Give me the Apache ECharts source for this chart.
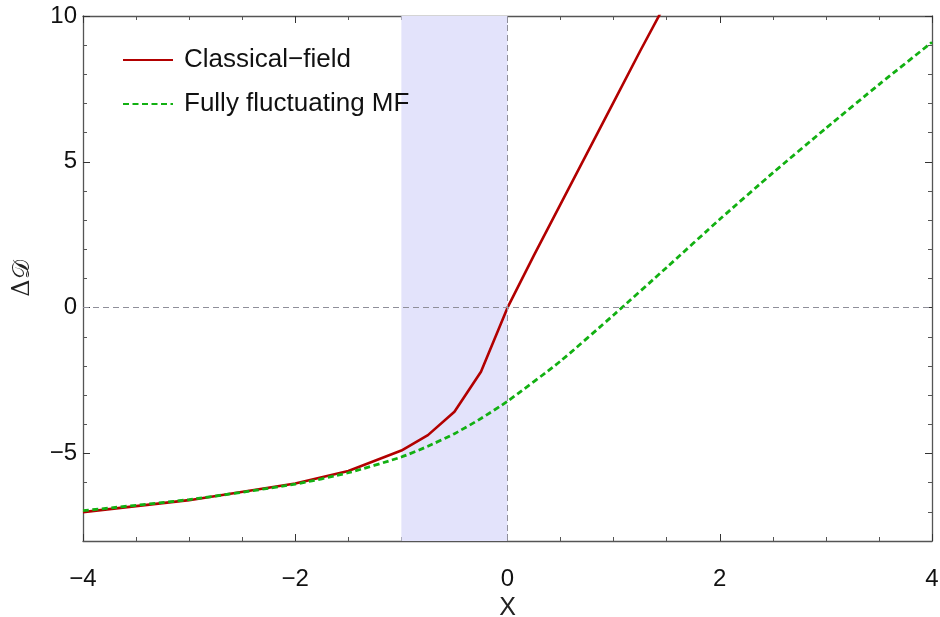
<!DOCTYPE html>
<html>
<head>
<meta charset="utf-8">
<script src="https://cdn.jsdelivr.net/npm/echarts@6/dist/echarts.min.js"></script>
<style>
  html, body { margin: 0; padding: 0; background: #fff; }
  #chart { width: 940px; height: 617px; }
</style>
</head>
<body>
<div id="chart"></div>
<script>
// data
const classicalX = [-4, -3, -2, -1.5, -1, -0.75, -0.5, -0.25, 0, 0.25, 0.5, 0.75, 1, 1.25, 1.5];
const classicalY = [-7.01, -6.6, -6.03, -5.6, -4.9, -4.37, -3.57, -2.2, 0, 1.8, 3.55, 5.3, 7.05, 8.8, 10.5];
const fluctX = [-4, -3, -2, -1.5, -1, -0.75, -0.5, -0.25, 0, 0.5, 1, 1.5, 2, 2.5, 3, 3.5, 4];
const fluctY = [-6.96, -6.58, -6.05, -5.66, -5.12, -4.75, -4.32, -3.8, -3.21, -1.83, -0.25, 1.38, 3.03, 4.62, 6.15, 7.65, 9.1];
const yMajorTicks = [-5, 0, 5, 10];
const bandRange = [-1, 0];

const FONT = 'Liberation Sans';
const FRAME = '#555';

function pairs(xs, ys) {
    return xs.map((x, i) => [x, ys[i]]);
}
function minusFmt(v) {
    return String(v).replace('-', '\u2212');
}

const chart = echarts.init(document.getElementById('chart'), null, { renderer: 'canvas' });

const xBase = { type: 'value', min: -4, max: 4, interval: 2 };
const yBase = { type: 'value', min: -8, max: 10 };
const frameLine = { onZero: false, lineStyle: { color: FRAME, width: 1.3 } };

const option = {
    animation: false,
    grid: { left: 83, right: 8, top: 16, bottom: 76, containLabel: false, outerBoundsMode: 'none' },
    legend: {
        orient: 'vertical',
        left: 117,
        top: 42,
        itemWidth: 50,
        itemHeight: 26,
        itemGap: 18,
        itemStyle: { opacity: 0 },
        data: ['Classical\u2212field', 'Fully fluctuating MF'],
        textStyle: { fontFamily: FONT, fontSize: 26, color: '#111', padding: [0, 0, 0, 6] }
    },
    xAxis: [
        // bottom, labels + major ticks
        Object.assign({}, xBase, {
            position: 'bottom',
            name: 'X', nameLocation: 'middle', nameGap: 46,
            nameTextStyle: { fontFamily: FONT, fontSize: 25, color: '#222' },
            axisLine: frameLine,
            axisTick: { inside: true, length: 7, lineStyle: { color: '#333' } },
            minorTick: { show: true, splitNumber: 4, length: 4, lineStyle: { color: FRAME } },
            axisLabel: { fontFamily: FONT, fontSize: 24, color: '#111', margin: 26, formatter: minusFmt },
            splitLine: { show: false }
        }),
        // top frame
        Object.assign({}, xBase, {
            position: 'top',
            axisLine: frameLine,
            axisTick: { inside: true, length: 7, lineStyle: { color: '#333' } },
            minorTick: { show: true, splitNumber: 4, length: 4, lineStyle: { color: FRAME } },
            axisLabel: { show: false },
            splitLine: { show: false }
        })
    ],
    yAxis: [
        // left, minor ticks at every integer
        Object.assign({}, yBase, {
            position: 'left', interval: 1,
            axisLine: frameLine,
            axisTick: { inside: true, length: 4, lineStyle: { color: FRAME } },
            axisLabel: { show: false },
            splitLine: { show: false }
        }),
        // left, labels and major ticks
        Object.assign({}, yBase, {
            position: 'left',
            name: '\u0394\uD835\uDC9F', nameLocation: 'middle', nameGap: 48, nameRotate: 90,
            nameTextStyle: { fontFamily: 'DejaVu Serif', fontSize: 24, color: '#222' },
            axisLine: { show: false, onZero: false },
            axisTick: { inside: true, length: 7, customValues: yMajorTicks, lineStyle: { color: '#333' } },
            axisLabel: { fontFamily: FONT, fontSize: 24, color: '#111', margin: 6, customValues: yMajorTicks, formatter: minusFmt },
            splitLine: { show: false }
        }),
        // right frame, minor
        Object.assign({}, yBase, {
            position: 'right', interval: 1,
            axisLine: frameLine,
            axisTick: { inside: true, length: 4, lineStyle: { color: FRAME } },
            axisLabel: { show: false },
            splitLine: { show: false }
        }),
        // right frame, major
        Object.assign({}, yBase, {
            position: 'right',
            axisLine: { show: false, onZero: false },
            axisTick: { inside: true, length: 7, customValues: yMajorTicks, lineStyle: { color: '#333' } },
            axisLabel: { show: false, customValues: yMajorTicks },
            splitLine: { show: false }
        })
    ],
    series: [
        {
            // shaded band and dashed zero lines
            type: 'line',
            data: [],
            z: 1,
            silent: true,
            markArea: {
                silent: true,
                itemStyle: { color: '#e3e3fb' },
                data: [[{ xAxis: bandRange[0] }, { xAxis: bandRange[1] }]]
            },
            markLine: {
                silent: true,
                symbol: 'none',
                label: { show: false },
                lineStyle: { type: [6, 4], width: 1, color: '#8f8f9a' },
                data: [{ xAxis: 0 }, { yAxis: 0 }]
            }
        },
        {
            name: 'Classical\u2212field',
            type: 'line',
            z: 3,
            data: pairs(classicalX, classicalY),
            symbol: 'none',
            smooth: false,
            clip: true,
            lineStyle: { color: '#b20000', width: 2.6 },
            itemStyle: { color: '#b20000' }
        },
        {
            name: 'Fully fluctuating MF',
            type: 'line',
            z: 4,
            data: pairs(fluctX, fluctY),
            symbol: 'none',
            smooth: 0.2,
            clip: true,
            lineStyle: { color: '#12b012', width: 2.8, type: [6, 3.5] },
            itemStyle: { color: '#12b012' }
        }
    ]
};

chart.setOption(option);
</script>
</body>
</html>
